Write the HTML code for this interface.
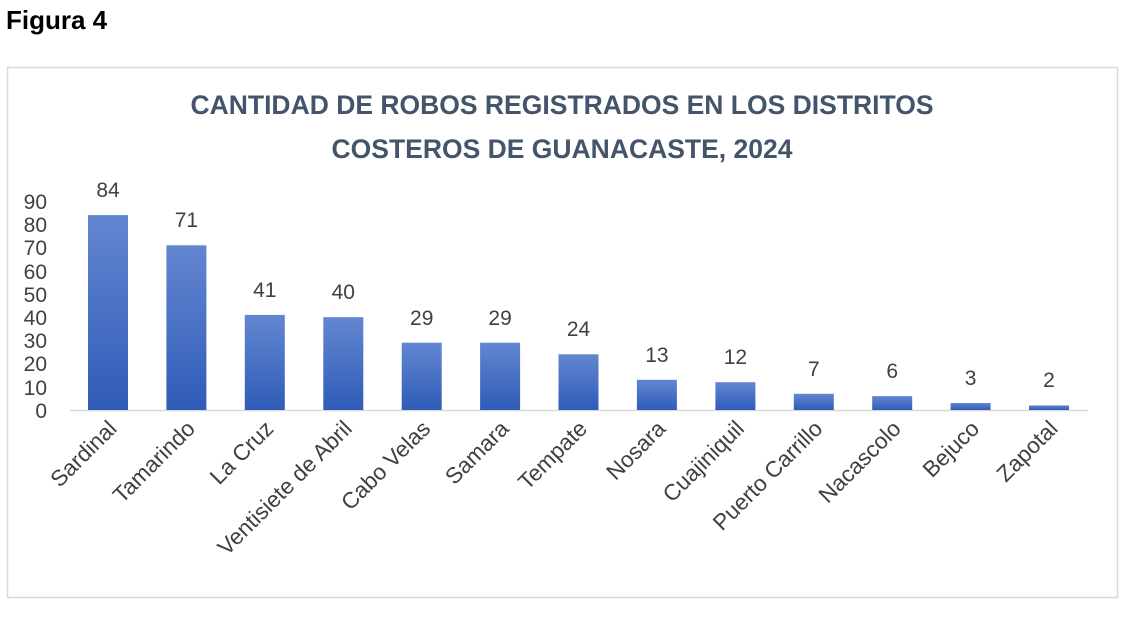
<!DOCTYPE html>
<html><head><meta charset="utf-8"><style>
body{margin:0;background:#fff;width:1134px;height:614px;overflow:hidden;font-family:"Liberation Sans",sans-serif}
</style></head><body>
<svg width="1134" height="614" xmlns="http://www.w3.org/2000/svg" font-family="Liberation Sans, sans-serif">
<defs><linearGradient id="g" x1="0" y1="0" x2="0" y2="1"><stop offset="0" stop-color="#6386d0"/><stop offset="1" stop-color="#2f5cb8"/></linearGradient></defs>
<text x="6" y="29" font-size="26" font-weight="bold" fill="#000">Figura 4</text>
<rect x="7.5" y="67.5" width="1110" height="530" fill="#fff" stroke="#d9d9d9" stroke-width="1.5"/>
<text x="562" y="114" font-size="26.5" font-weight="bold" fill="#44546a" text-anchor="middle">CANTIDAD DE ROBOS REGISTRADOS EN LOS DISTRITOS</text>
<text x="562" y="158" font-size="26.5" font-weight="bold" fill="#44546a" text-anchor="middle">COSTEROS DE GUANACASTE, 2024</text>
<g font-size="21" fill="#404040" text-anchor="end">
<text x="47" y="209">90</text><text x="47" y="232">80</text><text x="47" y="255">70</text><text x="47" y="279">60</text><text x="47" y="302">50</text><text x="47" y="325">40</text><text x="47" y="348">30</text><text x="47" y="371">20</text><text x="47" y="395">10</text><text x="47" y="418">0</text>
</g>
<line x1="70" y1="410.5" x2="1088" y2="410.5" stroke="#d9d9d9" stroke-width="1.5"/>
<g fill="url(#g)">
<rect x="88" y="215.1" width="40" height="194.9"/>
<rect x="166.4" y="245.3" width="40" height="164.7"/>
<rect x="244.8" y="314.9" width="40" height="95.1"/>
<rect x="323.3" y="317.2" width="40" height="92.8"/>
<rect x="401.7" y="342.7" width="40" height="67.3"/>
<rect x="480.1" y="342.7" width="40" height="67.3"/>
<rect x="558.5" y="354.3" width="40" height="55.7"/>
<rect x="636.9" y="379.8" width="40" height="30.2"/>
<rect x="715.4" y="382.2" width="40" height="27.8"/>
<rect x="793.8" y="393.8" width="40" height="16.2"/>
<rect x="872.2" y="396.1" width="40" height="13.9"/>
<rect x="950.6" y="403" width="40" height="7"/>
<rect x="1029" y="405.4" width="40" height="4.6"/>
</g>
<g font-size="21" fill="#404040" text-anchor="middle">
<text x="108" y="197">84</text>
<text x="186.4" y="227">71</text>
<text x="264.8" y="297">41</text>
<text x="343.3" y="299">40</text>
<text x="421.7" y="325">29</text>
<text x="500.1" y="325">29</text>
<text x="578.5" y="336">24</text>
<text x="656.9" y="362">13</text>
<text x="735.4" y="364">12</text>
<text x="813.8" y="376">7</text>
<text x="892.2" y="378">6</text>
<text x="970.6" y="385">3</text>
<text x="1049" y="387">2</text>
</g>
<g font-size="22.5" fill="#404040" text-anchor="end">
<text transform="translate(118,430) rotate(-45)">Sardinal</text>
<text transform="translate(196.4,430) rotate(-45)">Tamarindo</text>
<text transform="translate(274.8,430) rotate(-45)">La Cruz</text>
<text transform="translate(353.3,430) rotate(-45)">Ventisiete de Abril</text>
<text transform="translate(431.7,430) rotate(-45)">Cabo Velas</text>
<text transform="translate(510.1,430) rotate(-45)">Samara</text>
<text transform="translate(588.5,430) rotate(-45)">Tempate</text>
<text transform="translate(666.9,430) rotate(-45)">Nosara</text>
<text transform="translate(745.4,430) rotate(-45)">Cuajiniquil</text>
<text transform="translate(823.8,430) rotate(-45)">Puerto Carrillo</text>
<text transform="translate(902.2,430) rotate(-45)">Nacascolo</text>
<text transform="translate(980.6,430) rotate(-45)">Bejuco</text>
<text transform="translate(1059,430) rotate(-45)">Zapotal</text>
</g>
</svg>
</body></html>
